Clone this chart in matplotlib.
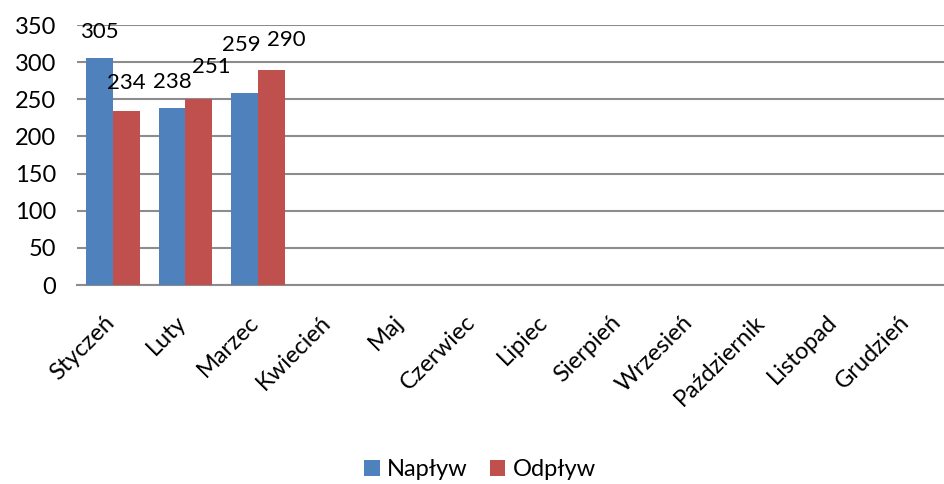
import numpy as np
import matplotlib.pyplot as plt
import matplotlib.transforms as mtransforms

plt.rcParams['font.family'] = ['Lato', 'DejaVu Sans']

months = ['Styczeń', 'Luty', 'Marzec', 'Kwiecień', 'Maj', 'Czerwiec', 'Lipiec',
          'Sierpień', 'Wrzesień', 'Październik', 'Listopad', 'Grudzień']
naplyw = [305, 238, 259]
odplyw = [234, 251, 290]

# label offsets in points (dx, dy), the labels sit a bit off in the original
off_naplyw = [(0, 19), (0.5, 19), (-2, 34.5)]
off_odplyw = [(0, 20), (9, 23), (11, 21)]

blue = '#4F81BD'
red = '#C0504D'
fs = 17

fig = plt.figure(figsize=(9.45, 4.84), dpi=100)
ax = fig.add_axes([77 / 945, 1 - 285 / 484, 868 / 945, 260 / 484])

x = np.arange(len(months))
w = 0.37
xn = x[:len(naplyw)]
b1 = ax.bar(xn - w / 2, naplyw, w, color=blue, label='Napływ', zorder=3)
b2 = ax.bar(xn + w / 2, odplyw, w, color=red, label='Odpływ', zorder=3)

for bars, vals, offs in [(b1, naplyw, off_naplyw), (b2, odplyw, off_odplyw)]:
    for r, v, (dx, dy) in zip(bars, vals, offs):
        ax.annotate(str(v), (r.get_x() + r.get_width() / 2, v),
                    xytext=(dx, dy), textcoords='offset points',
                    ha='center', va='center', fontsize=16)

ax.set_xlim(-0.5, len(months) - 0.5)
ax.set_ylim(0, 350)
ax.set_yticks(range(0, 351, 50))
ax.yaxis.grid(True, color='#8c8c8c', lw=1.5, zorder=0)
ax.set_axisbelow(True)
for s in ['top', 'right', 'left']:
    ax.spines[s].set_visible(False)
ax.spines['bottom'].set_color('#8c8c8c')
ax.spines['bottom'].set_linewidth(1.5)
ax.tick_params(length=0, labelsize=fs)
ax.tick_params(axis='y', pad=15)
ax.set_xticks(x)
ax.set_xticklabels(months, rotation=45, ha='right', rotation_mode='anchor')
ax.tick_params(axis='x', pad=19)
shift = mtransforms.ScaledTranslation(-10 / 100, 0, fig.dpi_scale_trans)
for lab in ax.get_xticklabels():
    lab.set_transform(lab.get_transform() + shift)

fig.legend(handles=[b1, b2], loc='center', bbox_to_anchor=(480 / 945, 1 - 470 / 484),
           ncol=2, frameon=False, fontsize=fs, handlelength=0.65, handleheight=0.65,
           columnspacing=0.95, handletextpad=0.3)

fig.savefig('out.png', dpi=100)
